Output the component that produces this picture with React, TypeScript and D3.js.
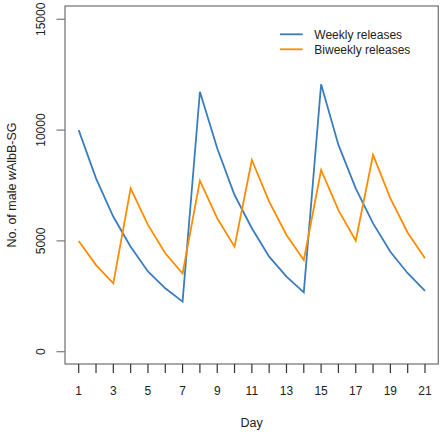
import React from "react";
import * as d3 from "d3";

const days = d3.range(1, 22);
const weekly = [10000, 7820, 6090, 4740, 3620, 2860, 2260, 11730, 9180, 7070, 5570, 4290, 3390, 2680, 12070, 9330, 7370, 5790, 4510, 3540, 2750];
const biweekly = [5000, 3910, 3080, 7370, 5720, 4440, 3530, 7720, 6020, 4740, 8650, 6770, 5270, 4140, 8200, 6390, 5010, 8880, 6920, 5370, 4220];
const yTicks = [0, 5000, 10000, 15000];
const xTickLabels = [1, 3, 5, 7, 9, 11, 13, 15, 17, 19, 21];
const seriesNames = ["Weekly releases", "Biweekly releases"];
const colors = ["#3a7dbd", "#ff8c00"];

export default function App() {
  const W = 440, H = 432;
  const left = 65, right = 438.3, top = 6, bottom = 364;
  const x = d3.scaleLinear().domain([1, 21]).range([78.7, 425]);
  const y = d3.scaleLinear().domain([0, 15000]).range([351.7, 19.3]);
  const line = d3.line<number>().x((_, i) => x(days[i])).y((d) => y(d));
  const font = "'Liberation Sans', Arial, sans-serif";
  const series = [weekly, biweekly];
  return (
    <svg width={W} height={H} style={{ position: "absolute", left: 0, top: 0 }} fontFamily={font}>
      <rect x={0} y={0} width={W} height={H} fill="#fff" />
      <rect x={left} y={top} width={right - left} height={bottom - top} fill="none" stroke="#7a7a7a" strokeWidth={1.3} />
      {yTicks.map((t) => (
        <g key={t}>
          <line x1={56.5} x2={left} y1={y(t)} y2={y(t)} stroke="#7a7a7a" strokeWidth={1.2} />
          <text transform={`translate(45,${y(t)}) rotate(-90)`} textAnchor="middle" fontSize={12} fill="#222">{t}</text>
        </g>
      ))}
      {days.map((d) => (
        <line key={d} x1={x(d)} x2={x(d)} y1={bottom} y2={373} stroke="#333" strokeWidth={1.2} />
      ))}
      {xTickLabels.map((d) => (
        <text key={d} x={x(d)} y={395} textAnchor="middle" fontSize={12} fill="#222">{d}</text>
      ))}
      <text x={(left + right) / 2} y={427} textAnchor="middle" fontSize={12.5} fill="#222">Day</text>
      <text transform={`translate(15.5,${(top + bottom) / 2}) rotate(-90)`} textAnchor="middle" fontSize={12.5} fill="#222">
        No. of male <tspan fontStyle="italic">w</tspan>AlbB-SG
      </text>
      {series.map((s, i) => (
        <path key={i} d={line(s) || ""} fill="none" stroke={colors[i]} strokeWidth={1.8} strokeLinejoin="miter" />
      ))}
      {seriesNames.map((n, i) => (
        <g key={n}>
          <line x1={280} x2={302.7} y1={34.3 + i * 15} y2={34.3 + i * 15} stroke={colors[i]} strokeWidth={1.8} />
          <text x={314.3} y={38.6 + i * 15} fontSize={12} fill="#222">{n}</text>
        </g>
      ))}
    </svg>
  );
}
